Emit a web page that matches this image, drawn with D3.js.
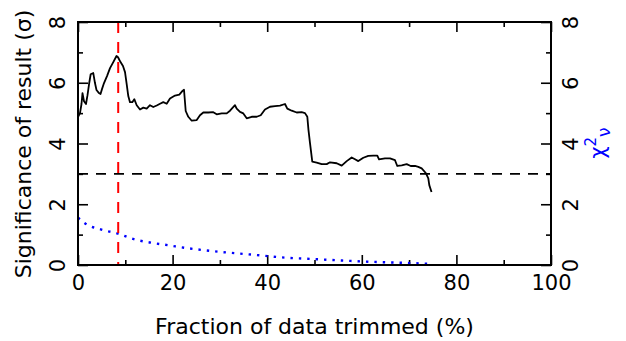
<!DOCTYPE html>
<html><head><meta charset="utf-8">
<script src="https://cdn.jsdelivr.net/npm/d3@7"></script>
<style>body{margin:0;background:#fff}svg{display:block}text{font-family:"DejaVu Sans",sans-serif;fill:#000}</style>
</head><body>
<script>
const sigX = [0,0.42,0.74,0.95,1.27,1.69,2.01,2.33,2.68,3.23,3.59,3.91,4.44,4.76,5.07,5.50,6.13,6.77,7.46,8.14,8.46,8.99,9.51,9.94,10.30,10.63,10.99,11.48,11.90,12.41,13.11,13.81,14.52,15.22,15.92,16.64,17.34,18.03,18.75,19.45,20.51,21.42,22.14,22.41,22.77,23.32,24.04,25.10,25.79,26.49,27.55,28.60,29.32,30.38,31.44,32.14,33.19,33.55,34.25,34.95,35.67,36.72,37.78,38.63,39.53,40.59,41.65,42.71,43.76,44.25,45.18,46.24,47.29,47.99,48.48,48.73,49.05,49.53,50.46,51.52,52.58,53.28,54.69,55.75,56.81,57.86,58.56,59.26,60.32,61.37,62.43,63.28,63.64,64.90,65.96,67.02,67.50,68.44,69.49,70.34,71.25,71.94,72.66,73.57,74.06,74.27,74.74];
const sigY = [4.87,5.00,5.30,5.66,5.39,5.30,5.59,5.95,6.28,6.32,5.99,5.76,5.66,5.63,5.79,5.99,6.22,6.48,6.68,6.88,6.84,6.68,6.55,6.35,5.95,5.56,5.36,5.36,5.46,5.26,5.12,5.18,5.15,5.26,5.20,5.25,5.31,5.36,5.31,5.48,5.58,5.61,5.74,5.77,5.07,4.88,4.75,4.77,4.93,5.02,5.02,5.03,4.96,4.99,4.99,5.08,5.26,5.15,5.04,4.99,4.83,4.88,4.88,4.93,5.12,5.21,5.23,5.25,5.30,5.15,5.08,5.02,5.03,5.00,4.88,4.44,4.01,3.40,3.37,3.32,3.32,3.38,3.35,3.27,3.42,3.54,3.48,3.42,3.53,3.59,3.60,3.60,3.48,3.51,3.51,3.45,3.26,3.28,3.32,3.26,3.26,3.23,3.18,3.02,2.85,2.63,2.40];
const chiX = [0,1.3,4.8,8.3,11.8,15.6,19.1,22.8,26.5,30.2,33.9,37.6,43.1,50.5,59.6,68.8,74.4];
const chiY = [1.56,1.39,1.17,1.04,0.85,0.73,0.65,0.56,0.49,0.43,0.38,0.33,0.25,0.19,0.12,0.07,0.04];
const threshold = 3;
const bestCut = 8.5;
const xTicks = [0,20,40,60,80,100];
const xMinor = [10,30,50,70,90];
const yTicks = [0,2,4,6,8];
const yMinor = [1,3,5,7];
const xTitle = "Fraction of data trimmed (%)";
const yTitle = "Significance of result (σ)";

const W=626,H=341, L=78, R=551, T=22, B=265;
const svg=d3.select("body").append("svg").attr("width",W).attr("height",H);
svg.append("rect").attr("width",W).attr("height",H).attr("fill","#fff");
const x=d3.scaleLinear().domain([0,100]).range([L,R]);
const y=d3.scaleLinear().domain([0,8]).range([B,T]);

function styleAxis(g){g.select(".domain").remove();g.selectAll("line").attr("stroke","#000").attr("stroke-width",1.6);}
// major/minor ticks
const fs=21;
const gb=svg.append("g").attr("transform",`translate(0,${B})`).call(d3.axisBottom(x).tickValues(xTicks).tickSize(-10).tickSizeOuter(0).tickPadding(10).tickFormat(d3.format("d")));
styleAxis(gb); gb.selectAll("text").attr("font-size",fs).attr("font-family","DejaVu Sans");
const gbm=svg.append("g").attr("transform",`translate(0,${B})`).call(d3.axisBottom(x).tickValues(xMinor).tickSize(-5).tickSizeOuter(0).tickFormat(""));
styleAxis(gbm);
const gt=svg.append("g").attr("transform",`translate(0,${T})`).call(d3.axisTop(x).tickValues(xTicks).tickSize(-10).tickSizeOuter(0).tickFormat(""));
styleAxis(gt);
const gtm=svg.append("g").attr("transform",`translate(0,${T})`).call(d3.axisTop(x).tickValues(xMinor).tickSize(-5).tickSizeOuter(0).tickFormat(""));
styleAxis(gtm);
const gl=svg.append("g").attr("transform",`translate(${L},0)`).call(d3.axisLeft(y).tickValues(yTicks).tickSize(-10).tickSizeOuter(0).tickFormat(d3.format("d")));
styleAxis(gl);
gl.selectAll("text").attr("x",0).attr("dy",0).attr("text-anchor","middle").attr("font-size",fs).attr("font-family","DejaVu Sans").attr("transform","translate(-13,0) rotate(-90)");
const glm=svg.append("g").attr("transform",`translate(${L},0)`).call(d3.axisLeft(y).tickValues(yMinor).tickSize(-5).tickSizeOuter(0).tickFormat(""));
styleAxis(glm);
const gr=svg.append("g").attr("transform",`translate(${R},0)`).call(d3.axisRight(y).tickValues(yTicks).tickSize(-10).tickSizeOuter(0).tickFormat(d3.format("d")));
styleAxis(gr);
gr.selectAll("text").attr("x",0).attr("dy",0).attr("text-anchor","middle").attr("font-size",fs).attr("font-family","DejaVu Sans").attr("transform","translate(27,0) rotate(-90)");
const grm=svg.append("g").attr("transform",`translate(${R},0)`).call(d3.axisRight(y).tickValues(yMinor).tickSize(-5).tickSizeOuter(0).tickFormat(""));
styleAxis(grm);

// threshold line
svg.append("line").attr("x1",x(0)).attr("x2",x(100)).attr("y1",y(threshold)).attr("y2",y(threshold))
  .attr("stroke","#000").attr("stroke-width",1.6).attr("stroke-dasharray","10,8");
// chi2 dotted
const chiLine=d3.line().x((d,i)=>x(chiX[i])).y(d=>y(d)).curve(d3.curveMonotoneX);
svg.append("path").attr("d",chiLine(chiY)).attr("fill","none").attr("stroke","#0000ff").attr("stroke-width",2.4).attr("stroke-dasharray","2.4,6");
// significance curve
const sigLine=d3.line().x((d,i)=>x(sigX[i])).y(d=>y(d));
svg.append("path").attr("d",sigLine(sigY)).attr("fill","none").attr("stroke","#000").attr("stroke-width",1.8).attr("stroke-linejoin","round");
// best cut red
svg.append("line").attr("x1",x(bestCut)).attr("x2",x(bestCut)).attr("y1",y(8)).attr("y2",y(0))
  .attr("stroke","#ff0000").attr("stroke-width",2).attr("stroke-dasharray","11,9");
// frame
svg.append("rect").attr("x",L).attr("y",T).attr("width",R-L).attr("height",B-T).attr("fill","none").attr("stroke","#000").attr("stroke-width",2);

// titles
svg.append("text").attr("x",(L+R)/2).attr("y",334).attr("text-anchor","middle").attr("font-size",22).text(xTitle);
svg.append("text").attr("transform",`translate(31,${(T+B)/2+0.5}) rotate(-90)`).attr("text-anchor","middle").attr("font-size",22).text(yTitle);
const chiLab=svg.append("text").attr("transform",`translate(605,143) rotate(-90)`).attr("text-anchor","middle").attr("font-size",21).style("fill","#0000ff");
chiLab.append("tspan").text("χ");
chiLab.append("tspan").attr("dy",-9).attr("font-size",15).text("2");
chiLab.append("tspan").attr("dy",14).attr("font-size",17).text("ν");
</script>
</body></html>
